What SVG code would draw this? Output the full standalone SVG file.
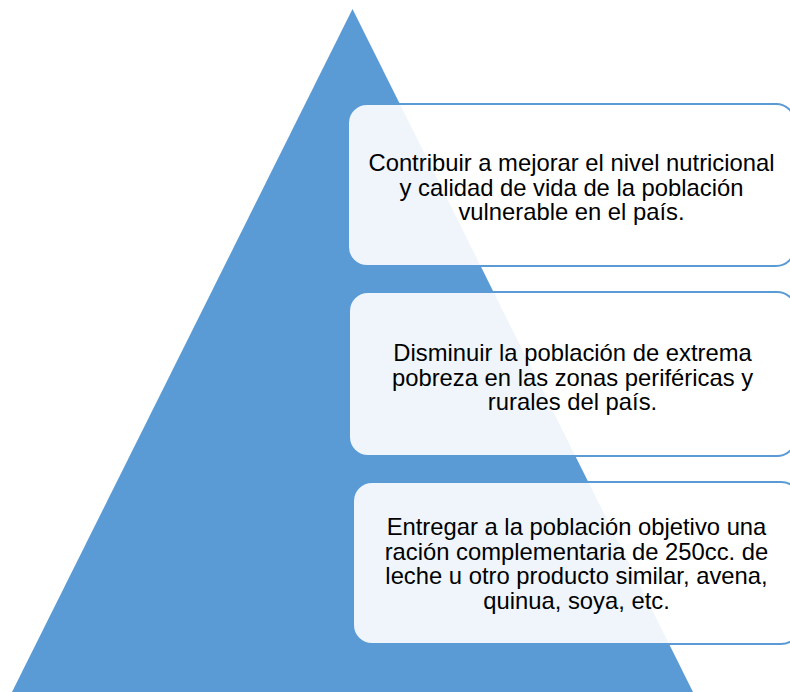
<svg xmlns="http://www.w3.org/2000/svg" width="790" height="692" viewBox="0 0 790 692">
<style>
.box{fill:#FFFFFF;fill-opacity:0.9;stroke:#5B9BD5;stroke-width:2}
.t{font-family:"Liberation Sans",Arial,sans-serif;font-size:23.8px;fill:#000000;text-anchor:middle}
</style>
<rect width="790" height="692" fill="#FFFFFF"/>
<g id="pyramid">
<polygon points="352.5,9 693,692 12,692" fill="#5B9BD5"/>
</g>
<g id="connectors"></g>
<g id="node1">
<rect class="box" x="348" y="104" width="447" height="162" rx="19" ry="19"/>
<text class="t" x="571.5" y="171">Contribuir a mejorar el nivel nutricional</text>
<text class="t" x="571.5" y="195.5">y calidad de vida de la población</text>
<text class="t" x="571.5" y="220">vulnerable en el país.</text>
</g>
<g id="node2">
<rect class="box" x="349" y="292" width="447" height="164" rx="19" ry="19"/>
<text class="t" x="572.5" y="361">Disminuir la población de extrema</text>
<text class="t" x="572.5" y="385.5">pobreza en las zonas periféricas y</text>
<text class="t" x="572.5" y="410">rurales del país.</text>
</g>
<g id="node3">
<rect class="box" x="353" y="482" width="447" height="162" rx="19" ry="19"/>
<text class="t" x="576.5" y="535">Entregar a la población objetivo una</text>
<text class="t" x="576.5" y="559.5">ración complementaria de 250cc. de</text>
<text class="t" x="576.5" y="584">leche u otro producto similar, avena,</text>
<text class="t" x="576.5" y="608.5">quinua, soya, etc.</text>
</g>
</svg>
